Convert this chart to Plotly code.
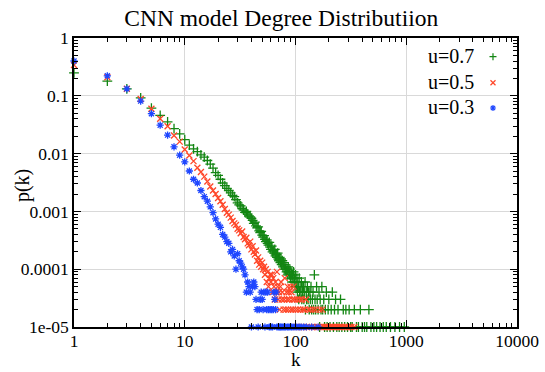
import plotly.graph_objects as go

# ---------------- data ----------------
# u = 0.7 : one value per degree k = 1..100, then sparse tail
green_head_p = [
    0.25, 0.179, 0.132, 0.092, 0.061, 0.0457, 0.0355, 0.027, 0.022, 0.0175,
    0.0140, 0.0121, 0.0108, 0.0095, 0.0087, 0.0076, 0.0066, 0.0056, 0.0047, 0.0042,
    0.0036, 0.0031, 0.0028, 0.0025, 0.0023, 0.0021, 0.0019, 0.0018, 0.0016, 0.0014,
    0.0013, 0.00125, 0.00112, 0.00105, 0.00096, 0.00100, 0.00090, 0.00084, 0.00080, 0.00076,
    7.0e-4, 6.2e-4, 6.5e-4, 5.6e-4, 5.2e-4, 5.4e-4, 4.6e-4, 4.3e-4, 4.5e-4, 3.9e-4,
    3.6e-4, 3.8e-4, 3.3e-4, 3.0e-4, 3.2e-4, 2.8e-4, 2.6e-4, 2.9e-4, 2.4e-4, 2.2e-4,
    2.5e-4, 2.0e-4, 2.1e-4, 1.9e-4, 2.2e-4, 1.7e-4, 1.8e-4, 1.6e-4, 1.9e-4, 1.5e-4,
    1.4e-4, 1.6e-4, 1.3e-4, 1.5e-4, 1.2e-4, 1.4e-4, 1.1e-4, 1.3e-4, 1.0e-4, 1.2e-4,
    1.0e-4, 1.1e-4, 9e-5, 1.0e-4, 8e-5, 1.1e-4, 9e-5, 8e-5, 1.0e-4, 7e-5,
    9e-5, 8e-5, 6e-5, 8e-5, 7e-5, 9e-5, 6e-5, 7e-5, 5e-5, 8e-5,
]
green_tail_k = [
    101, 102, 103, 104, 105, 106, 107, 108, 109, 110,
    112, 113, 114, 115, 116, 118, 119, 120, 122, 123,
    125, 126, 128, 130, 131, 133, 135, 136, 138, 140,
    142, 144, 146, 148, 150, 152, 155, 157, 160, 163,
    165, 167, 170, 173, 176, 180, 183, 186, 190, 193,
    197, 200, 205, 210, 215, 220, 225, 230, 236, 242,
    248, 255, 262, 270, 278, 285, 295, 305, 315, 325,
    340, 355, 370, 385, 400, 420, 440, 460, 480, 510,
    540, 580, 620, 660, 720, 790, 870, 960,
]
green_tail_p = [
    6e-5, 5e-5, 7e-5, 4e-5, 6e-5, 5e-5, 3e-5, 7e-5, 4e-5, 5e-5,
    4e-5, 6e-5, 3e-5, 5e-5, 4e-5, 5e-5, 3e-5, 4e-5, 6e-5, 2e-5,
    4e-5, 3e-5, 5e-5, 3e-5, 4e-5, 2e-5, 4e-5, 3e-5, 5e-5, 2e-5,
    3e-5, 4e-5, 2e-5, 8e-5, 3e-5, 2e-5, 5e-5, 3e-5, 2e-5, 4e-5,
    1e-5, 3e-5, 2e-5, 5e-5, 2e-5, 3e-5, 1e-5, 2e-5, 4e-5, 1e-5,
    2e-5, 3e-5, 1e-5, 2e-5, 4e-5, 1e-5, 2e-5, 3e-5, 1e-5, 2e-5,
    1e-5, 3e-5, 1e-5, 2e-5, 1e-5, 2e-5, 1e-5, 2e-5, 1e-5, 1e-5,
    2e-5, 1e-5, 1e-5, 2e-5, 1e-5, 1e-5, 1e-5, 2e-5, 1e-5, 1e-5,
    1e-5, 1e-5, 1e-5, 1e-5, 1e-5, 1e-5, 1e-5, 1e-5,
]

# u = 0.5 : one value per degree k = 1..60, then sparse tail
red_head_p = [
    0.34, 0.21, 0.132, 0.088, 0.0596, 0.040, 0.0297, 0.0206, 0.0161, 0.0118,
    0.0093, 0.0074, 0.0057, 0.0048, 0.0040, 0.0033, 0.0027, 0.0023, 0.0020, 0.0017,
    0.0015, 0.0013, 0.0011, 0.00095, 0.00088, 0.00078, 0.00068, 0.00062, 0.00058, 0.00050,
    0.00047, 0.00042, 0.00045, 0.00036, 0.00033, 0.00035, 0.00028, 0.00026, 0.00030, 0.00022,
    0.00025, 0.00020, 0.00018, 0.00021, 0.00014, 0.00016, 0.00012, 0.00014, 0.00011, 0.00013,
    0.00010, 0.00011, 8e-5, 1.0e-4, 6e-5, 9e-5, 5e-5, 7e-5, 8e-5, 6e-5,
]
red_tail_k = [
    61, 62, 63, 64, 65, 66, 67, 68, 69, 70,
    71, 72, 73, 74, 75, 76, 78, 79, 80, 82,
    83, 84, 85, 86, 87, 88, 90, 91, 92, 94,
    95, 96, 98, 100, 102, 103, 105, 107, 109, 111,
    113, 115, 117, 119, 121, 124, 127, 130, 133, 136,
    140, 144, 148, 152, 156, 160, 165, 170, 175, 180,
    186, 192, 198, 205, 212, 220, 228, 236, 245, 255,
    265, 278, 290, 305, 320, 340,
]
red_tail_p = [
    8e-5, 4e-5, 7e-5, 5e-5, 3e-5, 6e-5, 4e-5, 9e-5, 5e-5, 3e-5,
    4e-5, 2e-5, 5e-5, 6e-5, 3e-5, 4e-5, 2e-5, 3e-5, 7e-5, 2e-5,
    4e-5, 3e-5, 5e-5, 2e-5, 4e-5, 3e-5, 5e-5, 2e-5, 4e-5, 3e-5,
    2e-5, 5e-5, 3e-5, 2e-5, 1e-5, 3e-5, 2e-5, 1e-5, 3e-5, 2e-5,
    1e-5, 3e-5, 2e-5, 1e-5, 2e-5, 3e-5, 1e-5, 2e-5, 1e-5, 2e-5,
    1e-5, 2e-5, 1e-5, 2e-5, 1e-5, 1e-5, 2e-5, 1e-5, 2e-5, 1e-5,
    1e-5, 1e-5, 1e-5, 1e-5, 1e-5, 1e-5, 1e-5, 1e-5, 1e-5, 1e-5,
    1e-5, 1e-5, 1e-5, 1e-5, 1e-5, 1e-5,
]

# u = 0.3 : one value per degree k = 1..35, then sparse tail
blue_head_p = [
    0.40, 0.222, 0.132, 0.081, 0.049, 0.031, 0.0209, 0.0131, 0.0094, 0.0072,
    0.0050, 0.0036, 0.0031, 0.0023, 0.0018, 0.0015, 0.0012, 0.00095, 0.00074, 0.00060,
    0.00053, 0.00040, 0.00036, 0.00030, 0.00028, 0.00020, 0.00022, 0.00017, 0.00010, 0.000185,
    0.00014, 0.000127, 0.00011, 0.00010, 8e-5,
]
blue_tail_k = [
    36, 37, 38, 39, 40, 41, 42, 43, 44, 45,
    46, 47, 48, 49, 50, 51, 52, 53, 54, 55,
    56, 57, 58, 59, 60, 61, 62, 63, 64, 65,
    66, 67, 68, 70, 72, 73, 75, 77, 79, 81,
    84, 86, 89, 92, 95, 99, 103, 108, 112, 118,
    125, 140, 160,
]
blue_tail_p = [
    4e-5, 6e-5, 5e-5, 4e-5, 1e-5, 5e-5, 6e-5, 5e-5, 3e-5, 2e-5,
    1e-5, 2e-5, 3e-5, 4e-5, 3e-5, 2e-5, 4e-5, 1e-5, 4e-5, 2e-5,
    4e-5, 2e-5, 1e-5, 2e-5, 1e-5, 2e-5, 1e-5, 2e-5, 4e-5, 3e-5,
    2e-5, 4e-5, 1e-5, 1e-5, 1e-5, 1e-5, 1e-5, 1e-5, 1e-5, 1e-5,
    1e-5, 1e-5, 1e-5, 1e-5, 1e-5, 1e-5, 1e-5, 1e-5, 1e-5, 1e-5,
    1e-5, 1e-5, 1e-5,
]

series_labels = ["u=0.7", "u=0.5", "u=0.3"]
x_tick_vals = [1, 10, 100, 1000, 10000]
x_tick_text = ["1", "10", "100", "1000", "10000"]
y_tick_vals = [1, 0.1, 0.01, 0.001, 0.0001, 0.00001]
y_tick_text = ["1", "0.1", "0.01", "0.001", "0.0001", "1e-05"]

# ---------------- figure ----------------
SERIF = "Liberation Serif, Times New Roman, serif"
colors = ["#138613", "#ff4628", "#1e46ff"]
symbols = ["cross-thin-open", "x-thin-open", "asterisk-open"]
sizes = [7, 6, 6]

# legend key layout (fractions of the plot area) - text on the left, symbol on the right
legend_row_y = [0.9353, 0.8453, 0.7578]
legend_text_x = 0.9075
legend_key_x = 0.9458

data = [
    (list(range(1, len(green_head_p) + 1)) + green_tail_k, green_head_p + green_tail_p),
    (list(range(1, len(red_head_p) + 1)) + red_tail_k, red_head_p + red_tail_p),
    (list(range(1, len(blue_head_p) + 1)) + blue_tail_k, blue_head_p + blue_tail_p),
]

fig = go.Figure()
for (kx, py), lab, col, sym, sz in zip(data, series_labels, colors, symbols, sizes):
    fig.add_trace(go.Scatter(
        x=kx, y=py, mode="markers", name=lab, showlegend=False, cliponaxis=False,
        marker=dict(symbol=sym, size=sz, color=col, line=dict(color=col, width=1.3)),
    ))
# legend keys on an invisible overlay axis spanning the plot area
for lab, col, sym, ry in zip(series_labels, colors, symbols, legend_row_y):
    fig.add_trace(go.Scatter(
        x=[legend_key_x], y=[ry], xaxis="x2", yaxis="y2", mode="markers",
        name=lab + " (key)", showlegend=False, hoverinfo="skip", cliponaxis=False,
        marker=dict(symbol=sym, size=5, color=col, line=dict(color=col, width=1.2)),
    ))

x_minor = [m * 10 ** d for d in range(0, 4) for m in range(2, 10)]
y_minor = [m * 10.0 ** d for d in range(-5, 0) for m in range(2, 10)]

axis_common = dict(
    type="log", ticks="inside", ticklen=7, tickwidth=1, tickcolor="black",
    showline=True, linecolor="black", linewidth=1.5, mirror="allticks",
    showgrid=True, gridcolor="#d9d9d9", gridwidth=1, zeroline=False,
    tickfont=dict(family=SERIF, size=17.5, color="black"),
)
xaxis_cfg = dict(
    range=[0, 4], tickvals=x_tick_vals, ticktext=x_tick_text,
    minor=dict(tickvals=x_minor, ticks="inside", ticklen=4, tickcolor="black", showgrid=False),
    ticklabelstandoff=-3, **axis_common,
)
yaxis_cfg = dict(
    range=[-5, 0], tickvals=y_tick_vals, ticktext=y_tick_text,
    minor=dict(tickvals=y_minor, ticks="inside", ticklen=4, tickcolor="black", showgrid=False),
    **axis_common,
)

annotations = [
    dict(text="p(k)", xref="paper", yref="paper", x=-0.1174, y=0.491, textangle=-90,
         showarrow=False, xanchor="center", yanchor="middle",
         font=dict(family=SERIF, size=20, color="black")),
    dict(text="k", xref="paper", yref="paper", x=0.5, y=-0.1557,
         showarrow=False, xanchor="center", yanchor="bottom",
         font=dict(family=SERIF, size=19, color="black")),
]
for lab, yy in zip(series_labels, legend_row_y):
    annotations.append(dict(text=lab, xref="paper", yref="paper", x=legend_text_x, y=yy + 0.003,
                            showarrow=False, xanchor="right", yanchor="middle",
                            font=dict(family=SERIF, size=20, color="black")))

fig.update_layout(
    width=545, height=372,
    margin=dict(l=74, r=28, t=38, b=45, autoexpand=False),
    template="none",
    paper_bgcolor="white", plot_bgcolor="white",
    title=dict(text="CNN model Degree Distributiion", x=0.516, xref="container", xanchor="center",
               y=0.952, yref="container", yanchor="middle",
               font=dict(family=SERIF, size=23.5, color="black")),
    showlegend=False,
    xaxis=xaxis_cfg,
    yaxis=yaxis_cfg,
    xaxis2=dict(overlaying="x", anchor="y2", range=[0, 1], visible=False, fixedrange=True),
    yaxis2=dict(overlaying="y", anchor="x2", range=[0, 1], visible=False, fixedrange=True),
    annotations=annotations,
    shapes=[dict(type="rect", xref="paper", yref="paper", x0=0.849, x1=1.0, y0=0.716, y1=1.0,
                 fillcolor="white", line=dict(width=0), layer="between")],
)

fig.write_html("out.html")
